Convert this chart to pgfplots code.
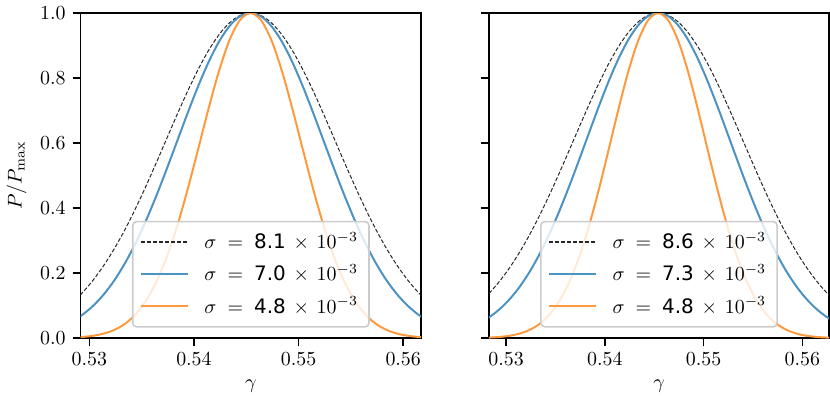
\documentclass[border=0pt]{standalone}
\usepackage{fontspec}
\usepackage{pgfplots}
\pgfplotsset{compat=1.18}
\usepackage{pgfplotstable}
\newfontfamily\dejavu{DejaVu Sans}
\definecolor{cblue}{RGB}{76,146,195}
\definecolor{corange}{RGB}{255,153,62}

\pgfplotstableread{
x d1 b1 o1 d2 b2
0.5274 0.08466 0.03666 0.00088 0.11188 0.04784
0.5284 0.11054 0.05239 0.00189 0.14174 0.06643
0.5294 0.14214 0.07337 0.00387 0.17717 0.09054
0.5304 0.18002 0.10067 0.00758 0.21847 0.12111
0.5314 0.22455 0.13533 0.01421 0.26579 0.15898
0.5324 0.27585 0.17826 0.02554 0.31902 0.20481
0.5334 0.33374 0.23007 0.04394 0.37776 0.25896
0.5344 0.39768 0.29092 0.07238 0.44131 0.32133
0.5354 0.46669 0.36045 0.11416 0.50863 0.39131
0.5364 0.53941 0.43756 0.17242 0.57834 0.46767
0.5374 0.61402 0.52045 0.24935 0.64878 0.54855
0.5384 0.68837 0.60653 0.34529 0.71802 0.63144
0.5394 0.76007 0.69257 0.45783 0.78398 0.71336
0.5404 0.82653 0.77484 0.58127 0.84450 0.79092
0.5414 0.88521 0.84936 0.70665 0.89748 0.86060
0.5424 0.93371 0.91225 0.82258 0.94097 0.91902
0.5434 0.96998 0.96000 0.91685 0.97332 0.96317
0.5444 0.99241 0.98985 0.97853 0.99326 0.99066
0.5454 1.00000 1.00000 1.00000 1.00000 1.00000
0.5464 0.99241 0.98985 0.97853 0.99326 0.99066
0.5474 0.96998 0.96000 0.91685 0.97332 0.96317
0.5484 0.93371 0.91225 0.82258 0.94097 0.91902
0.5494 0.88521 0.84936 0.70665 0.89748 0.86060
0.5504 0.82653 0.77484 0.58127 0.84450 0.79092
0.5514 0.76007 0.69257 0.45783 0.78398 0.71336
0.5524 0.68837 0.60653 0.34529 0.71802 0.63144
0.5534 0.61402 0.52045 0.24935 0.64878 0.54855
0.5544 0.53941 0.43756 0.17242 0.57834 0.46767
0.5554 0.46669 0.36045 0.11416 0.50863 0.39131
0.5564 0.39768 0.29092 0.07238 0.44131 0.32133
0.5574 0.33374 0.23007 0.04394 0.37776 0.25896
0.5584 0.27585 0.17826 0.02554 0.31902 0.20481
0.5594 0.22455 0.13533 0.01421 0.26579 0.15898
0.5604 0.18002 0.10067 0.00758 0.21847 0.12111
0.5614 0.14214 0.07337 0.00387 0.17717 0.09054
0.5624 0.11054 0.05239 0.00189 0.14174 0.06643
0.5634 0.08466 0.03666 0.00088 0.11188 0.04784
}\gausstable

\newcommand{\lent}[1]{\hspace{6pt}$\sigma\;=\;\mbox{\dejavu #1}\,\times\,10^{-3}$}

\pgfplotsset{myax/.style={
  width=171pt, height=163.3pt, scale only axis,
  ymin=0, ymax=1,
  tick align=outside, tick pos=left, major tick length=4pt,
  axis line style={line width=0.8pt},
  every tick/.style={black, line width=0.8pt},
  xtick={0.53,0.54,0.55,0.56},
  ytick={0,0.2,0.4,0.6,0.8,1},
  scaled x ticks=false, scaled y ticks=false,
  xticklabel style={/pgf/number format/.cd,fixed,fixed zerofill,precision=2},
  yticklabel style={/pgf/number format/.cd,fixed,fixed zerofill,precision=1},
  xlabel={$\gamma$},
  legend cell align=left,
  legend style={at={(0.5,0.032)}, anchor=south, draw=black!20, line width=0.8pt,
    fill=white, fill opacity=0.8, text opacity=1, draw opacity=1,
    rounded corners=2pt, font=\normalsize, row sep=2.5pt, inner sep=3.5pt},
  legend image code/.code={\draw[line width=1pt,##1] (0pt,0pt) -- (23.5pt,0pt);},
}}

\begin{document}
\begin{tikzpicture}
\begin{axis}[myax, xmin=0.52917, xmax=0.56171, ylabel={$P/P_{\mathrm{max}}$}]
\addplot[black!85, line width=0.5pt, dash pattern=on 2pt off 1pt, smooth] table[x=x,y=d1] {\gausstable};
\addlegendentry{\lent{8.1}}
\addplot[cblue, line width=1pt, smooth] table[x=x,y=b1] {\gausstable};
\addlegendentry{\lent{7.0}}
\addplot[corange, line width=1pt, smooth] table[x=x,y=o1] {\gausstable};
\addlegendentry{\lent{4.8}}
\end{axis}
\begin{axis}[myax, at={(205pt,0)}, xmin=0.52825, xmax=0.56272, yticklabels={}]
\addplot[black!85, line width=0.5pt, dash pattern=on 2pt off 1pt, smooth] table[x=x,y=d2] {\gausstable};
\addlegendentry{\lent{8.6}}
\addplot[cblue, line width=1pt, smooth] table[x=x,y=b2] {\gausstable};
\addlegendentry{\lent{7.3}}
\addplot[corange, line width=1pt, smooth] table[x=x,y=o1] {\gausstable};
\addlegendentry{\lent{4.8}}
\end{axis}
\end{tikzpicture}
\end{document}
